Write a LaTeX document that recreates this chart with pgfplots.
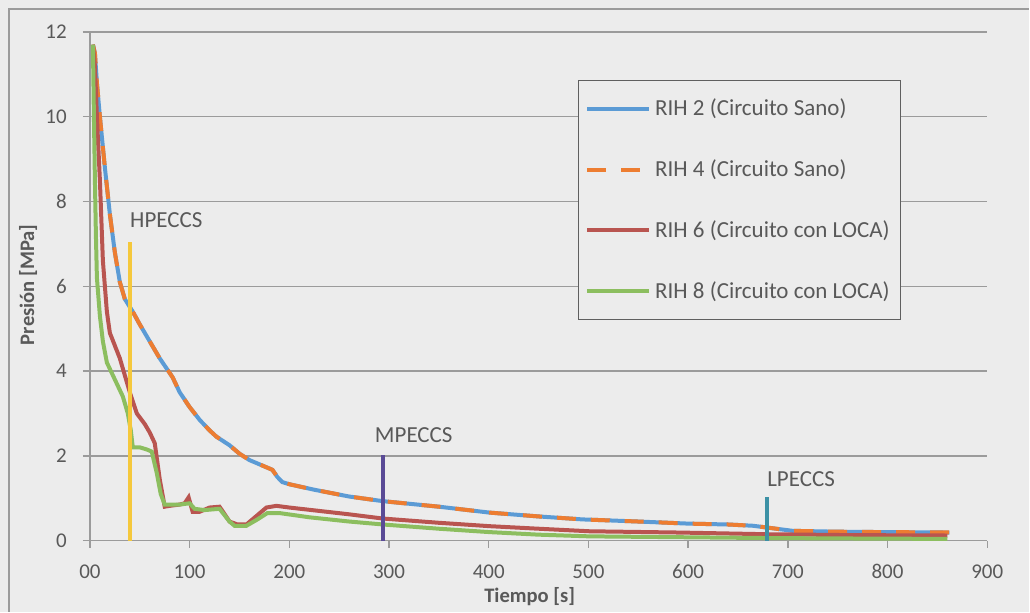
\documentclass[border=0pt]{standalone}
\usepackage{pgfplots}
\pgfplotsset{compat=1.18}
\usepackage{fontspec}
\setmainfont{Carlito}
\definecolor{bgc}{RGB}{236,236,236}
\definecolor{txt}{RGB}{89,89,89}
\definecolor{gridc}{RGB}{155,155,155}
\definecolor{legc}{RGB}{95,95,95}
\definecolor{cblue}{RGB}{91,155,213}
\definecolor{corange}{RGB}{237,125,49}
\definecolor{cred}{RGB}{185,85,80}
\definecolor{cgreen}{RGB}{140,190,95}
\definecolor{cyellow}{RGB}{245,200,60}
\definecolor{cpurple}{RGB}{90,75,150}
\definecolor{cteal}{RGB}{60,145,165}
\begin{document}
\begin{tikzpicture}
\fill[bgc] (0,0) rectangle (515pt,306pt);
\draw[gridc, line width=0.8pt] (4.5pt,0) -- (4.5pt,301.5pt) -- (515pt,301.5pt);
\begin{axis}[
  at={(45pt,35.5pt)}, anchor=south west,
  scale only axis, width=449pt, height=254.5pt,
  xmin=0, xmax=900, ymin=0, ymax=12,
  axis x line*=bottom, axis y line*=left,
  axis line style={-, gridc, line width=0.7pt},
  every outer x axis line/.append style={-},
  every outer y axis line/.append style={-},
  xtick={0,100,...,900},
  xticklabels={00,100,200,300,400,500,600,700,800,900},
  ytick={0,2,...,12},
  tick align=outside, major tick length=3.5pt,
  tick style={gridc, line width=0.7pt},
  ymajorgrids, grid style={gridc, line width=0.7pt},
  /pgf/number format/assume math mode=true,
  ticklabel style={font=\fontsize{10.5}{12}\selectfont, text=txt},
  yticklabel style={xshift=-4.6pt},
  xticklabel style={yshift=-5pt},
  xlabel={\textbf{Tiempo [s]}},
  ylabel={\textbf{Presión [MPa]}},
  label style={font=\fontsize{10.3}{12}\selectfont, text=txt},
  xlabel style={at={(axis description cs:0.49,-0.110)}, anchor=center},
  ylabel style={at={(axis description cs:-0.069,0.503)}, anchor=center},
  legend style={at={(0.5434,0.9057)}, anchor=north west, draw=legc, fill=bgc,
    font=\fontsize{11.5}{13}\selectfont, text=txt, row sep=16.5pt,
    inner xsep=3.5pt, inner ysep=7.2pt, line width=0.7pt},
  legend cell align=left,
  legend image code/.code={\draw[#1] (0pt,0pt) -- (31pt,0pt);},
]
\addplot[cblue, line width=2pt] coordinates {
(3,11.7) (5,11.5) (7,10.8) (10,10.0) (15,8.8) (20,7.7) (25,6.8) (30,6.1) (35,5.7) (43,5.4) (50,5.1) (60,4.7) (70,4.3) (83,3.85) (90,3.5) (100,3.15) (110,2.85) (120,2.6) (127,2.45) (140,2.25) (150,2.05) (160,1.9) (170,1.8) (183,1.67) (188,1.5) (193,1.38) (200,1.33) (225,1.2) (260,1.04) (294,0.93) (350,0.8) (401,0.66) (450,0.57) (494,0.5) (550,0.45) (601,0.4) (640,0.38) (665,0.35) (685,0.29) (705,0.23) (750,0.21) (800,0.2) (862,0.19)
};
\addlegendentry{RIH 2 (Circuito Sano)}
\addplot[corange, line width=2pt, dash pattern=on 9.5pt off 7.5pt] coordinates {
(3,11.7) (5,11.5) (7,10.8) (10,10.0) (15,8.8) (20,7.7) (25,6.8) (30,6.1) (35,5.7) (43,5.4) (50,5.1) (60,4.7) (70,4.3) (83,3.85) (90,3.5) (100,3.15) (110,2.85) (120,2.6) (127,2.45) (140,2.25) (150,2.05) (160,1.9) (170,1.8) (183,1.67) (188,1.5) (193,1.38) (200,1.33) (225,1.2) (260,1.04) (294,0.93) (350,0.8) (401,0.66) (450,0.57) (494,0.5) (550,0.45) (601,0.4) (640,0.38) (665,0.35) (685,0.29) (705,0.23) (750,0.21) (800,0.2) (870,0.19)
};
\addlegendentry{RIH 4 (Circuito Sano)}
\addplot[cred, line width=2pt] coordinates {
(3,11.7) (5,11.2) (7,10.0) (10,8.5) (13,6.6) (17,5.4) (20,4.9) (25,4.6) (30,4.3) (35,3.9) (40,3.5) (47,3.0) (55,2.75) (60,2.55) (65,2.3) (70,1.45) (75,0.8) (80,0.82) (90,0.85) (95,0.88) (99,1.02) (103,0.68) (110,0.68) (120,0.78) (130,0.8) (140,0.45) (148,0.38) (157,0.38) (168,0.6) (177,0.78) (187,0.82) (200,0.78) (260,0.62) (294,0.52) (350,0.42) (401,0.34) (450,0.28) (501,0.22) (591,0.19) (680,0.15) (760,0.13) (860,0.12)
};
\addlegendentry{RIH 6 (Circuito con LOCA)}
\addplot[cgreen, line width=2pt] coordinates {
(3,11.7) (4,10) (5,8.5) (6,7.2) (7,6.2) (10,5.3) (13,4.7) (17,4.2) (25,3.8) (33,3.4) (38,3.0) (41,2.6) (43,2.2) (50,2.2) (57,2.15) (62,2.1) (67,1.6) (71,1.1) (75,0.85) (80,0.85) (90,0.85) (100,0.88) (105,0.75) (115,0.72) (130,0.75) (140,0.45) (145,0.35) (157,0.35) (168,0.5) (178,0.65) (190,0.65) (220,0.55) (260,0.45) (294,0.38) (350,0.28) (401,0.2) (450,0.14) (501,0.1) (591,0.08) (680,0.06) (760,0.05) (860,0.04)
};
\addlegendentry{RIH 8 (Circuito con LOCA)}
\addplot[cyellow, line width=2.2pt, forget plot] coordinates {(40,0) (40,7.05)};
\addplot[cpurple, line width=2pt, forget plot] coordinates {(294,0) (294,2.03)};
\addplot[cteal, line width=2pt, forget plot] coordinates {(679,0) (679,1.04)};
\node[anchor=west, inner sep=0pt, text=txt, font=\fontsize{11.5}{13}\selectfont] at (axis cs:40,7.57) {HPECCS};
\node[anchor=west, inner sep=0pt, text=txt, font=\fontsize{11.5}{13}\selectfont] at (axis cs:285.5,2.5) {MPECCS};
\node[anchor=west, inner sep=0pt, text=txt, font=\fontsize{11.5}{13}\selectfont] at (axis cs:679,1.44) {LPECCS};
\end{axis}
\end{tikzpicture}
\end{document}
